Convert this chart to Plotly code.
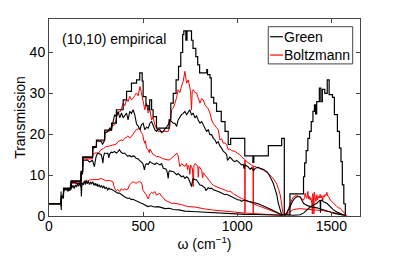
import plotly.graph_objects as go

# ---------------- data ----------------
# pristine / ballistic staircase (Green)
ballistic = [(0,3),(65,4.8),(77,6.8),(117,8.6),(170,10.9),(179,14.5),(232,17),(252,18.6),(296,21),(332,22.7),
             (358,26),(394,28.4),(412,30.5),(438,32.5),(465,33.3),(482,35),(495,33),(500,29.2),(515,27),(527,26),
             (535,28.4),(545,26),(553,24.3),(571,21.5),(638,23.5),(647,27.6),(660,30),(675,33.3),(688,36.6),(700,40),
             (710,44.4),(716,45.3),(727,43),(733,45.3),(757,43),(765,41),(780,39),(790,37),(800,35),(838,35.8),
             (842,34.6),(855,33.8),(862,29),(875,27.6),(890,25.6),(915,23.1),(935,20.7),(952,17.5),(965,19),(1040,14.7),
             (1083,13.1),(1088,14.7),(1165,17.2),(1236,19),(1250,0.3),(1280,5.4),(1352,9.6),(1358,13),(1366,16),(1375,19),
             (1384,20.7),(1393,23.1),(1402,25.6),(1410,27.2),(1416,25),(1422,28),(1436,31.3),(1444,28),(1452,31),(1465,30),
             (1478,33.3),(1488,29.7),(1506,29),(1516,24.8),(1532,20.7),(1543,16.6),(1551,13.3),(1558,7.6),(1566,3),(1574,0.2)]

# shortest disordered segment
green_1 = [(0,3),(64,3),(66,4.8),(76,4.8),(78,6.7),(116,6.7),(118,8.5),(169,8.5),(171,10.7),(178,10.7),(180,14.3),
           (231,14.3),(233,16.7),(251,16.8),(253,18.4),(275,18.3),(285,17.6),(295,18.5),(297,20.3),(310,20.6),(323,21.5),
           (332,21),(340,23),(349,24.8),(358,24.3),(367,25.6),(376,24),(385,25.2),(394,24),(403,24.6),(412,25.2),(420,23.5),
           (429,25.6),(438,25.1),(447,26),(456,24.7),(465,22.5),(474,22),(483,21.1),(491,22.3),(500,22.7),(509,21.1),
           (518,21.7),(527,21.5),(536,22.7),(545,23.1),(553,21.9),(562,21.1),(571,20.7),(580,21.2),(589,21.1),(598,20.4),
           (607,20.7),(616,21.3),(624,21.9),(633,22.3),(642,23.5),(651,23.1),(660,22.7),(669,22.7),(678,21.9),(686,23.5),
           (695,24.2),(704,24.8),(713,25.1),(722,25.6),(731,24.8),(740,25.4),(748,26),(757,24.7),(766,25.2),(775,24),
           (784,24.5),(793,23.4),(802,22.7),(811,23.1),(820,22.3),(828,21.6),(837,20.7),(846,21.1),(855,19.9),(864,19.9),
           (873,19),(882,18.6),(890,17.8),(899,18.2),(908,17.1),(917,16.6),(926,15.8),(935,15.5),(944,15),(948,13.6),
           (952,13.8),(961,14.4),(970,14),(979,13.5),(988,13.3),(997,13.6),(1005,13.3),(1014,13),(1023,12.5),(1032,12.6),
           (1036,11.6),(1041,12.5),(1050,12.3),(1059,12),(1068,11.4),(1077,11.8),(1086,11),(1094,11.6),(1103,11.8),
           (1112,11.9),(1121,11.7),(1130,11.6),(1140,11.4),(1148,11.1),(1156,10.9),(1165,10.4),(1174,9.7),(1183,8.8),
           (1192,7.9),(1201,6.8),(1210,5.2),(1218,3.1),(1227,1.5),(1236,0.3),(1255,0.3),(1265,0.8),(1280,2.2),(1295,3.7),
           (1307,4.4),(1316,4.7),(1334,4.7),(1345,3.7),(1352,3.1),(1370,2.6),(1387,2.3),(1405,2.1),(1423,2.0),(1440,1.8),
           (1458,1.5),(1476,1.3),(1494,1.0),(1511,0.7),(1529,0.5),(1547,0.3),(1565,0.2)]

boltz_1 = [(0,3),(64,3),(66,4.7),(76,4.7),(78,6.6),(116,6.6),(118,8.4),(169,8.4),(171,10.6),(178,10.6),(180,14.2),
           (231,14.2),(233,16.6),(251,16.8),(253,18.3),(295,18.4),(297,20.5),(323,20.8),(332,22),(349,22.3),(358,24),
           (367,25.3),(380,25.6),(394,27.6),(403,27),(412,28.6),(420,28),(429,29.3),(438,28.4),(447,28.8),(456,29.5),
           (465,30.1),(474,29.4),(483,31.7),(491,30.1),(500,27.6),(509,26),(518,27.6),(527,25.2),(536,26),(545,23.5),
           (553,24.3),(562,22.3),(571,21.5),(580,20.7),(633,20.7),(642,21.9),(651,26),(660,26.4),(669,27.6),(678,29),
           (686,30.9),(695,30.2),(704,31.7),(713,33),(722,35.4),(731,32.5),(740,33.3),(748,31.7),(752,30.5),(757,26),
           (761,30.5),(766,30.9),(775,30.2),(784,30.1),(793,28.6),(802,27.6),(811,28.7),(820,28.4),(828,27.2),(837,26.8),
           (846,26.2),(855,25.2),(864,23.5),(873,22.6),(882,21.9),(890,21.6),(899,21.1),(908,18.6),(917,18.9),(926,17.8),
           (935,17.9),(944,17.4),(952,16.2),(961,16.4),(970,16),(988,15.8),(1000,15.4),(1014,15),(1023,14.5),(1032,14.2),
           (1040,13.8),(1041,0.8),(1042,13.7),(1050,13.3),(1068,12.6),(1084,12.2),(1085,0.3),(1086,12.2),(1100,12),
           (1121,11.6),(1140,11.2),(1156,10.7),(1170,10.2),(1183,9.6),(1197,8.8),(1210,7.8),(1220,6.5),(1227,5.4),
           (1233,3.8),(1238,2.2),(1244,0.3),(1252,0.3),(1262,0.8),(1272,1.8),(1281,3.0),(1290,4.0),(1299,4.7),(1308,5.0),
           (1316,5.1),(1325,4.8),(1334,4.7),(1343,4.2),(1352,3.9),(1357,4.5),(1361,5.6),(1366,4.6),(1370,4.3),(1375,6.0),
           (1379,4.2),(1383,4.8),(1387,3.9),(1391,4.5),(1396,3.1),(1399,0.5),(1401,5.5),(1405,4.4),(1407,0.5),(1409,5.8),
           (1414,4.3),(1418,3.6),(1423,5.2),(1427,3.9),(1431,4.8),(1436,4.4),(1440,5.3),(1445,4.4),(1449,5.0),(1454,3.9),
           (1458,5.0),(1463,4.6),(1467,5.3),(1471,5.0),(1476,5.8),(1480,4.9),(1485,4.8),(1494,3.9),(1502,3.6),(1511,3.1),
           (1520,2.7),(1529,2.3),(1538,2.0),(1547,1.9),(1556,1.4),(1565,1.0),(1574,0.5),(1582,0.1)]

# medium segment
green_2 = [(0,3),(64,3),(65,1.5),(67,4.6),(76,4.6),(78,6.5),(100,6.5),(105,6.2),(116,6.5),(118,8.2),(140,8.3),(150,7.8),
           (169,8.2),(170,7),(172,10.4),(178,10.3),(180,13.6),(205,13.7),(215,13.2),(231,13.6),(241,12.1),(245,13.9),
           (250,14.5),(259,15.4),(268,15.1),(277,15),(282,14.2),(286,12.9),(290,14.6),(295,15.4),(304,15.3),(312,15.4),
           (318,14.2),(321,15.1),(330,15.6),(339,15.5),(348,15.8),(357,15.4),(366,15.7),(374,16.2),(383,15.6),(392,15.3),
           (401,15.4),(410,15),(419,14.6),(428,14.8),(437,14.5),(446,14.7),(454,14.6),(463,14.1),(472,14),(481,13.6),
           (490,13.3),(498,12.9),(503,12.1),(507,11.3),(512,12.5),(518,12.8),(527,12.6),(536,13.3),(545,13),(553,12.9),
           (562,12.6),(571,13),(580,12.7),(589,12.5),(598,12.8),(607,11.7),(616,11.6),(624,11.3),(629,10.5),(633,9.2),
           (637,10.9),(642,11.1),(651,10.9),(660,10.9),(669,10.5),(678,10.1),(686,10.4),(695,10.1),(704,9.6),(713,9.8),
           (722,9.2),(731,9.6),(740,9.3),(748,8.4),(753,7.6),(757,7.2),(762,8.6),(766,9.1),(775,8.9),(784,8.8),(793,8.2),
           (802,7.6),(811,7.5),(820,7.2),(828,6.9),(833,6.2),(837,6.4),(841,6.8),(846,6.9),(855,6.7),(864,6.8),(873,6.4),
           (882,6.3),(890,6.2),(899,6),(908,5.8),(917,5.6),(926,5.5),(935,5.2),(944,5.3),(952,5.1),(961,4.9),(970,4.7),
           (979,4.5),(988,4.3),(997,4.1),(1005,3.9),(1014,3.9),(1023,3.6),(1032,3.8),(1041,3.9),(1050,3.7),(1059,3.5),
           (1068,3.5),(1077,3.4),(1086,3.3),(1094,3.2),(1112,3.0),(1130,2.6),(1148,2.3),(1165,1.9),(1183,1.5),(1201,1.1),
           (1218,0.7),(1236,0.3),(1300,0.2),(1334,0.3),(1352,0.7),(1370,1.5),(1387,2.2),(1405,2.7),(1423,3.1),(1432,3.6),
           (1440,3.9),(1442,0.8),(1444,3.7),(1449,3.9),(1458,3.5),(1476,3.1),(1494,2.3),(1511,1.5),(1529,1.0),(1547,0.6),
           (1565,0.3),(1573,0.1)]

boltz_2 = [(0,3),(64,3),(66,4.7),(76,4.7),(78,6.6),(116,6.6),(118,8.3),(169,8.3),(171,10.5),(178,10.5),(180,13.9),
           (231,14),(235,15.2),(250,15.5),(260,15.2),(276,16.2),(290,16.5),(303,17),(320,17.1),(335,17.3),(348,17.4),
           (357,17.6),(366,18.2),(375,18.4),(384,18.6),(392,18.4),(401,19),(410,19.2),(419,19.6),(428,19.1),(437,19.4),
           (446,20),(455,20.6),(463,21.1),(472,21.3),(481,21.5),(490,20.4),(498,19.9),(503,18.6),(509,17.8),(512,18.4),
           (518,16.6),(527,16.2),(533,15.5),(536,16.4),(545,15.8),(553,15),(562,14.9),(571,14.5),(580,14.6),(589,14.3),
           (598,14.2),(607,14),(616,13.9),(633,13.7),(642,13.8),(651,14.1),(660,14.5),(669,14.9),(678,15.4),(686,14.8),
           (691,13.2),(695,12.1),(704,12.8),(713,12.4),(722,12.1),(731,12.9),(736,11.3),(740,12.4),(745,11.8),(748,10.2),
           (752,12.5),(757,12.1),(762,11.5),(766,7.2),(770,12.3),(775,12.8),(784,12.6),(790,12.3),(793,9.5),(797,12.1),
           (802,11.8),(811,11.2),(816,9.3),(820,10.6),(829,10),(837,9.5),(846,8.9),(855,8.3),(864,7.9),(873,7.5),(882,7.3),
           (890,7),(899,6.9),(908,6.8),(917,6.7),(926,6.5),(935,6.4),(944,6.2),(952,6),(961,6.1),(970,5.9),(979,5.5),
           (988,5.2),(997,4.9),(1005,4.7),(1014,4.5),(1023,4.3),(1032,4.1),(1041,3.9),(1059,3.5),(1077,3.1),(1094,2.8),
           (1112,2.5),(1130,2.2),(1148,1.9),(1165,1.6),(1183,1.3),(1201,0.9),(1218,0.6),(1236,0.3),(1255,0.2),(1281,1.0),
           (1299,1.6),(1334,1.8),(1387,1.6),(1423,1.5),(1458,1.3),(1494,1.0),(1529,0.6),(1565,0.3),(1582,0.1)]

# longest segment
green_3 = [(0,3),(63,3),(64,6),(65,2.3),(67,4.6),(76,4.4),(78,6.3),(90,6.5),(100,6.1),(110,6.6),(117,7.8),(122,6.9),
           (128,7.5),(134,6.7),(140,7.6),(146,7.1),(152,7.9),(158,7.3),(164,8),(170,7.2),(172,4.8),(175,8.1),(182,7.6),
           (188,8.6),(194,7.7),(197,8.8),(203,7.9),(209,8.5),(215,7.7),(221,8.3),(227,7.9),(233,8.4),(239,7.5),(245,8),
           (250,7.4),(256,7.9),(259,7.2),(266,7.6),(272,7.1),(278,7.4),(285,6.9),(291,7.3),(298,6.7),(305,7),(312,6.4),
           (318,6.8),(325,6.5),(330,6.6),(339,6.3),(348,6.0),(357,5.9),(366,5.6),(374,5.6),(383,5.2),(392,5.0),(401,4.7),
           (410,4.5),(419,4.3),(428,4.4),(437,4.0),(446,4.1),(454,3.9),(463,3.6),(472,3.4),(481,3.2),(490,3.1),(498,3.0),
           (507,2.8),(516,2.5),(525,2.3),(540,2.5),(560,2.2),(580,2.3),(600,2.0),(616,1.8),(640,1.9),(660,1.6),(690,1.5),
           (722,1.2),(760,1.1),(800,1.0),(864,0.7),(920,0.6),(980,0.5),(1041,0.4),(1100,0.35),(1160,0.3),(1240,0.2)]

boltz_3 = [(0,3),(64,3),(66,4.6),(76,4.6),(78,6.5),(116,6.5),(118,8.0),(179,8.0),(190,8.2),(197,8.4),(215,8.8),
           (230,8.9),(250,8.8),(260,8.9),(277,9.2),(290,8.8),(303,8.6),(320,8.7),(339,8.4),(344,7.5),(348,6.8),(357,6.2),
           (366,6.5),(376,6),(384,6.7),(392,6.3),(401,6.6),(410,6.4),(419,6.6),(428,7.6),(437,8.1),(445,8.4),(454,8.2),
           (463,8),(472,8.3),(481,8.4),(490,8.2),(495,7.6),(498,6.4),(507,5.9),(516,5.2),(527,4.2),(536,5.4),(545,5.8),
           (553,5.5),(562,6.0),(571,5.1),(580,5.4),(589,5.5),(598,4.8),(607,4.5),(616,3.9),(633,3.6),(651,3.1),(669,3.1),
           (686,3.0),(704,2.8),(722,2.5),(740,2.3),(775,2.2),(802,1.9),(830,1.7),(864,1.5),(900,1.3),(952,1.1),(1000,0.9),
           (1041,0.7),(1094,0.6),(1150,0.5),(1200,0.35),(1240,0.2)]

x_ticks = [0, 500, 1000, 1500]
y_ticks = [0, 10, 20, 30, 40]
legend_names = ["Green", "Boltzmann"]
panel_label = "(10,10) empirical"

# ---------------- figure ----------------
fig = go.Figure()
BLACK, RED = "black", "#ff0000"

def add(points, color, width, shape="linear", name=""):
    w, t = zip(*points)
    fig.add_trace(go.Scatter(
        x=list(w), y=list(t), mode="lines", name=name,
        line=dict(color=color, width=width, shape=shape),
        showlegend=False, hoverinfo="skip"))

add(boltz_3, RED, 1.0, name=legend_names[1])
add(boltz_2, RED, 1.0, name=legend_names[1])
add(boltz_1, RED, 1.0, name=legend_names[1])
add(green_3, BLACK, 1.1, name=legend_names[0])
add(green_2, BLACK, 1.1, name=legend_names[0])
add(green_1, BLACK, 1.1, name=legend_names[0])
add(ballistic, BLACK, 1.2, shape="hv", name=legend_names[0])

FONT = "Liberation Sans, Arial, Helvetica, sans-serif"
AX = "#444"
axis_common = dict(showline=True, linecolor=AX, linewidth=1, mirror="ticks",
                   ticks="inside", ticklen=4, tickcolor=AX, showgrid=False,
                   zeroline=False, automargin=False, tickfont=dict(size=14, color="black"))

# legend drawn as a framed key inside the axes (paper coordinates)
L_X0, L_X1, L_Y0, L_Y1 = 0.705, 0.9765, 0.772, 0.961
rows_y = [0.910, 0.817]
row_colors = [BLACK, RED]
shapes = [dict(type="rect", xref="paper", yref="paper", x0=L_X0, x1=L_X1, y0=L_Y0, y1=L_Y1,
               line=dict(color=AX, width=1), fillcolor="white", layer="above")]
annotations = [dict(x=57, y=43.4, xref="x", yref="y", text=panel_label,
                    showarrow=False, xanchor="left", yanchor="middle",
                    font=dict(size=14, color="black"))]
for name, yy, col in zip(legend_names, rows_y, row_colors):
    shapes.append(dict(type="line", xref="paper", yref="paper", x0=0.711, x1=0.752, y0=yy, y1=yy,
                       line=dict(color=col, width=1.2), layer="above"))
    annotations.append(dict(x=0.750, y=yy, xref="paper", yref="paper", text=name, showarrow=False,
                            xanchor="left", yanchor="middle", font=dict(size=14, color="black")))

# page body adds an 8 px offset, so the figure is 8 px smaller and margins shifted accordingly
fig.update_layout(
    width=390, height=248,
    margin=dict(l=41, r=38, t=11, b=40, autoexpand=False),
    plot_bgcolor="white", paper_bgcolor="white",
    font=dict(family=FONT, size=14, color="black"),
    showlegend=False,
    xaxis=dict(range=[0, 1652], tickvals=x_ticks, ticklabelstandoff=-3,
               title=dict(text="ω (cm<sup>−1</sup>)", standoff=0, font=dict(size=14)),
               **axis_common),
    yaxis=dict(range=[0, 48.2], tickvals=y_ticks,
               title=dict(text="Transmission", standoff=0, font=dict(size=14)),
               **axis_common),
    shapes=shapes,
    annotations=annotations,
)

fig.write_html("out.html")
